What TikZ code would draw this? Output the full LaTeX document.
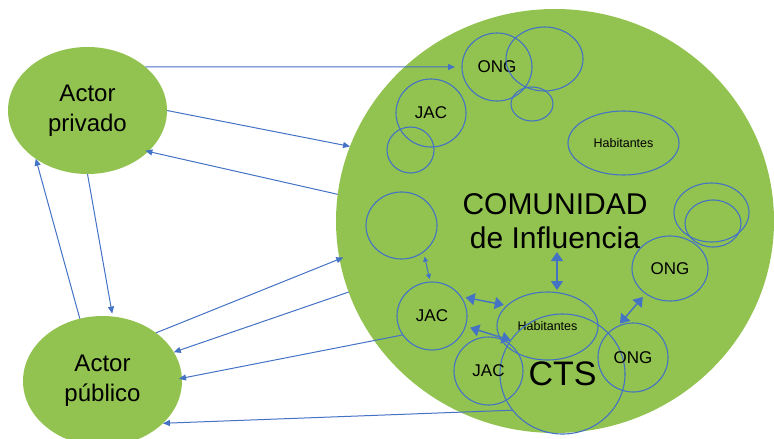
\documentclass[tikz,border=0pt]{standalone}
\usepackage{fontspec}
\setmainfont{Liberation Sans}
\usetikzlibrary{shapes.geometric,arrows.meta}
\definecolor{cgreen}{RGB}{146,195,80}
\definecolor{cblue}{RGB}{68,114,196}
\begin{document}
\begin{tikzpicture}[x=1pt,y=-1pt,
  ell/.style={ellipse, inner sep=0pt, outer sep=0pt},
  actor/.style={ell, fill=cgreen, font=\fontsize{24}{30}\selectfont, align=center},
  grp/.style={ell, draw=cblue, line width=1.1pt, font=\fontsize{17}{20}\selectfont},
  smalltext/.style={font=\fontsize{12.5}{14}\selectfont},
  link/.style={draw=cblue, line width=1pt, -{Triangle[length=7pt,width=6pt]}},
  dbl/.style={draw=cblue, line width=1.4pt, {Triangle[length=9pt,width=12pt]}-{Triangle[length=9pt,width=12pt]}},
  dbls/.style={draw=cblue, line width=1pt, {Triangle[length=5pt,width=5pt]}-{Triangle[length=5pt,width=5pt]}},
]
\useasboundingbox (0,0) rectangle (774,439);

% main areas
\node[ell, fill=cgreen, minimum width=438pt, minimum height=424pt, align=center,
      font=\fontsize{30}{34}\selectfont] (com) at (555,221) {COMUNIDAD\\de Influencia};
\node[actor, minimum width=159pt, minimum height=127pt] (priv) at (87.5,110.5) {Actor\\privado};
\node[actor, minimum width=159pt, minimum height=130pt] (pub) at (102.5,381) {Actor\\público};

% groups inside the community
\node[grp, minimum width=70pt, minimum height=68pt] (ong1) at (497,67) {ONG};
\node[grp, minimum width=77pt, minimum height=64pt] (c2) at (544.5,59) {};
\node[grp, minimum width=42pt, minimum height=34pt] (c3) at (532,104) {};
\node[grp, minimum width=70pt, minimum height=68pt] (jac1) at (431,113) {JAC};
\node[grp, minimum width=47pt, minimum height=46pt] (c5) at (410.5,150) {};
\node[grp, smalltext, minimum width=111pt, minimum height=64pt] (hab1) at (623.5,143) {Habitantes};
\node[grp, minimum width=71pt, minimum height=67pt] (c7) at (401.5,225.5) {};
\node[grp, minimum width=75pt, minimum height=59pt] (c8) at (711.5,212.5) {};
\node[grp, minimum width=56pt, minimum height=47pt] (c9) at (713,223.5) {};
\node[grp, minimum width=76pt, minimum height=65pt] (ong2) at (670,268.5) {ONG};
\node[grp, minimum width=70pt, minimum height=68pt] (jac2) at (432,316) {JAC};
\node[grp, smalltext, minimum width=101pt, minimum height=68pt] (hab2) at (547.5,326) {Habitantes};
\node[grp, minimum width=125pt, minimum height=120pt, font=\fontsize{34}{38}\selectfont] (cts) at (562.5,374) {CTS};
\node[grp, minimum width=69pt, minimum height=68pt] (jac3) at (488.5,371) {JAC};
\node[grp, minimum width=70pt, minimum height=69pt] (ong3) at (633,357.5) {ONG};

% connectors between actors and community
\draw[link] (priv.37) -- ([xshift=-7pt]ong1.west);
\draw[link] (priv.east) -- (com.160);
\draw[link, shorten >=-3pt] (com.173) -- (priv.-34);
\draw[link, shorten >=3pt] (priv.-90) -- (pub.81);
\draw[link] (pub.110) -- (priv.223);
\draw[link, shorten >=-4pt] (pub.42) -- (com.190);
\draw[link] (com.199) -- (pub.22);
\draw[link, shorten >=-3pt] (jac2.213) -- (pub.2);
\draw[link] (cts.216) -- (pub.-35);

% double arrows inside
\coordinate (infl) at (557,252);
\draw[dbls, shorten <=5pt, shorten >=3pt] (c7.-50) -- (jac2.93);
\draw[dbl, shorten >=2pt] (infl) -- (infl |- hab2.north);
\draw[dbl, shorten <=5pt, shorten >=3.5pt] (jac2.34) -- (hab2.153);
\draw[dbl, shorten <=5pt] (jac2.-17.5) -- (cts.147);
\draw[dbl, shorten <=4.5pt, shorten >=4pt] (ong2.226.5) -- (ong3.117.5);
\end{tikzpicture}
\end{document}
